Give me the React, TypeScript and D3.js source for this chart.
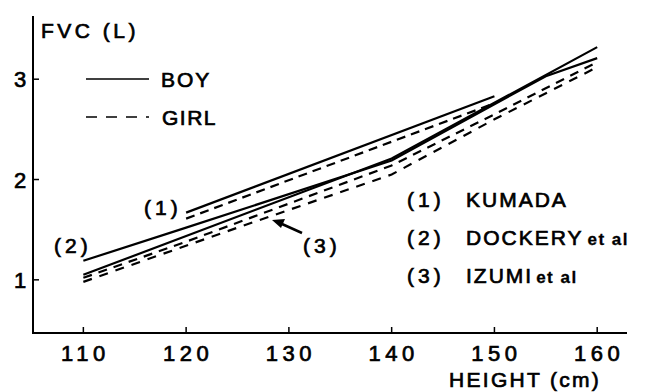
import React, { useEffect, useRef } from 'react';
import * as d3 from 'd3';

// height (cm) -> FVC (L)
const kumadaBoy = [[120, 1.67], [150, 2.83]];
const kumadaGirl = [[120, 1.61], [150, 2.76]];
const dockeryBoy = [[110, 1.19], [120, 1.52], [140, 2.19], [155, 3.03], [160, 3.21]];
const dockeryGirl = [[110, 1.02], [120, 1.38], [130, 1.76], [140, 2.14], [150, 2.65], [160, 3.17]];
const izumiBoy = [[110, 1.05], [140, 2.21], [160, 3.32]];
const izumiGirl = [[110, 0.98], [125, 1.52], [140, 2.05], [150, 2.60], [160, 3.12]];

const xTicks = [110, 120, 130, 140, 150, 160];
const yTicks = [1, 2, 3];
const sources = ['KUMADA', 'DOCKERY', 'IZUMI'];

const App = () => {
    const svgRef = useRef(null);

    useEffect(() => {
        const svg = d3.select(svgRef.current);
        svg.selectAll('*').remove();

        const x = d3.scaleLinear().domain([105.1, 162.9]).range([33, 627]);
        const y = d3.scaleLinear().domain([0.47, 3.63]).range([333, 16]);
        const font = '"Liberation Sans", Arial, sans-serif';

        const line = d3.line()
            .x(d => x(d[0]))
            .y(d => y(d[1]));

        // series
        const series = [
            { data: kumadaBoy, dash: null },
            { data: dockeryBoy, dash: null },
            { data: izumiBoy, dash: null },
            { data: kumadaGirl, dash: '9,6' },
            { data: dockeryGirl, dash: '9,7' },
            { data: izumiGirl, dash: '9,8' },
        ];
        series.forEach(s => {
            svg.append('path')
                .datum(s.data)
                .attr('fill', 'none')
                .attr('stroke', '#000')
                .attr('stroke-width', 2.2)
                .attr('stroke-dasharray', s.dash)
                .attr('d', line);
        });

        // axes
        svg.append('line')
            .attr('x1', 33).attr('x2', 33)
            .attr('y1', 16).attr('y2', 333)
            .attr('stroke', '#000').attr('stroke-width', 2);
        svg.append('line')
            .attr('x1', 32).attr('x2', 627)
            .attr('y1', 333).attr('y2', 333)
            .attr('stroke', '#000').attr('stroke-width', 2);

        xTicks.forEach(t => {
            svg.append('line')
                .attr('x1', x(t)).attr('x2', x(t))
                .attr('y1', 333).attr('y2', 327)
                .attr('stroke', '#000').attr('stroke-width', 1.5);
            svg.append('text')
                .attr('x', x(t) + 2).attr('y', 361)
                .attr('text-anchor', 'middle')
                .attr('font-family', font).attr('font-size', 22)
                .attr('letter-spacing', 4.5)
                .attr('stroke', '#000').attr('stroke-width', 0.7)
                .text(t);
        });
        yTicks.forEach(t => {
            svg.append('line')
                .attr('x1', 33).attr('x2', 39)
                .attr('y1', y(t)).attr('y2', y(t))
                .attr('stroke', '#000').attr('stroke-width', 1.5);
            svg.append('text')
                .attr('x', 20).attr('y', y(t) + 8)
                .attr('text-anchor', 'middle')
                .attr('font-family', font).attr('font-size', 22)
                .attr('stroke', '#000').attr('stroke-width', 0.7)
                .text(t);
        });

        const label = (tx, ty, txt, size = 21, spacing = 2) =>
            svg.append('text')
                .attr('x', tx).attr('y', ty)
                .attr('font-family', font).attr('font-size', size)
                .attr('letter-spacing', spacing)
                .attr('stroke', '#000').attr('stroke-width', 0.7)
                .text(txt);

        label(41, 38, 'FVC (L)', 21, 3.5);
        label(449, 387, 'HEIGHT (cm)', 21, 2.3);

        // legend
        svg.append('line')
            .attr('x1', 86).attr('x2', 149).attr('y1', 79).attr('y2', 79)
            .attr('stroke', '#000').attr('stroke-width', 1.6);
        svg.append('line')
            .attr('x1', 86).attr('x2', 149).attr('y1', 117).attr('y2', 117)
            .attr('stroke', '#000').attr('stroke-width', 1.6)
            .attr('stroke-dasharray', '11,9');
        label(161, 87, 'BOY', 21, 2);
        label(162, 125, 'GIRL', 21, 1.5);

        // source list
        sources.forEach((s, i) => {
            const ty = 207 + i * 38;
            label(407, ty, `(${i + 1})`, 21, 4);
            const t = label(466, ty, s, 21, 2);
            if (i > 0) {
                t.append('tspan')
                    .attr('font-size', 17).attr('letter-spacing', 1.5)
                    .attr('font-weight', 'bold')
                    .attr('stroke-width', 0.3)
                    .attr('dx', i === 1 ? 4 : 3)
                    .text('et al');
            }
        });

        // line annotations
        label(144, 215, '(1)', 21, 4);
        label(54, 253, '(2)', 21, 4);
        label(303, 253, '(3)', 21, 4);
        svg.append('line')
            .attr('x1', 302).attr('y1', 233)
            .attr('x2', 282).attr('y2', 224)
            .attr('stroke', '#000').attr('stroke-width', 2.5);
        svg.append('path')
            .attr('d', 'M272,220 L285,219 L281,228 Z')
            .attr('fill', '#000');
    }, []);

    return (
        <svg ref={svgRef} width="648" height="392"
            style={{ position: 'absolute', left: 0, top: 0, background: '#fff' }}></svg>
    );
};

export default App;
